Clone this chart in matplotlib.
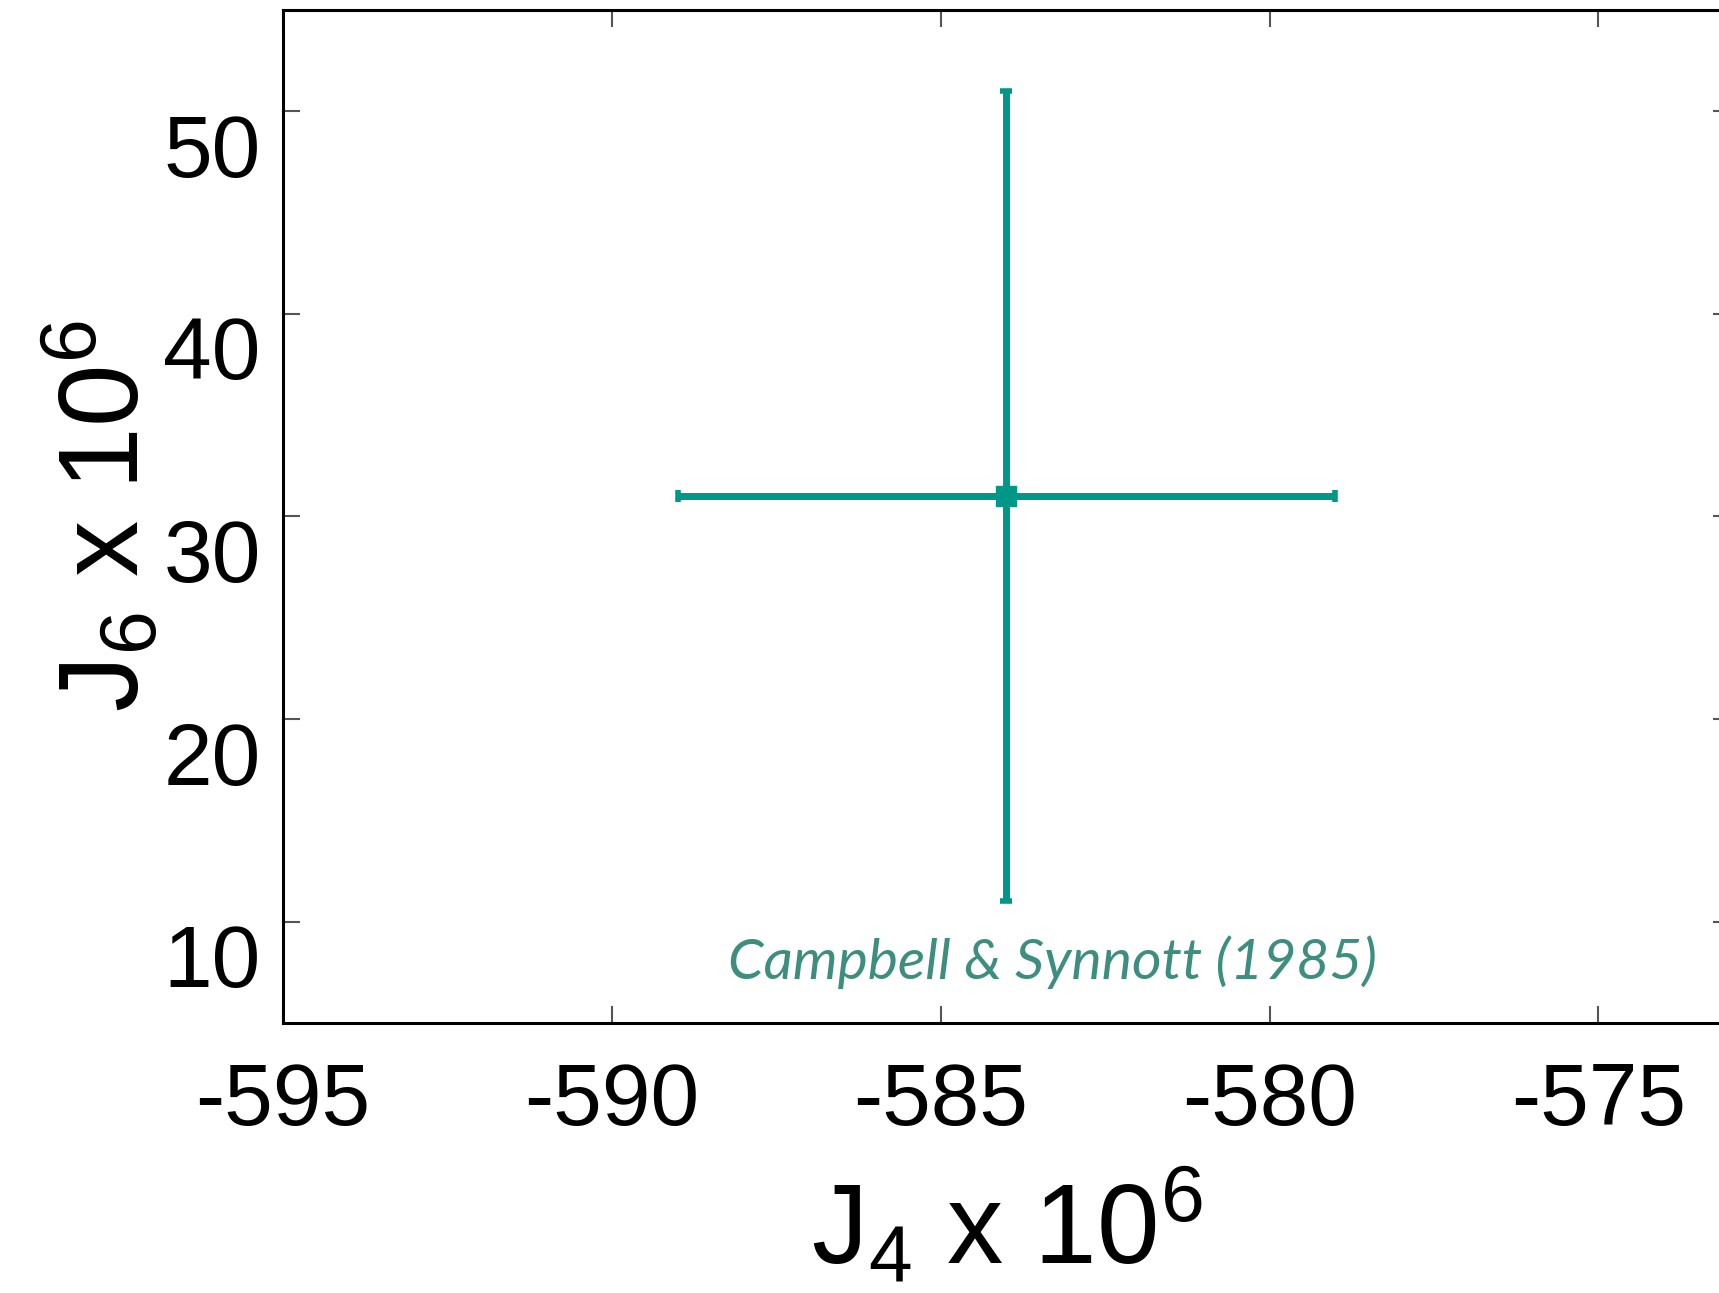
import matplotlib
matplotlib.use("Agg")
import matplotlib.pyplot as plt
from matplotlib.transforms import ScaledTranslation

# Datos
j4 = [-584.0]
j4_err = [5.0]
j6 = [31.0]
j6_err = [20.0]
label = "Campbell & Synnott (1985)"
label_pos = (-583.3, 7.15)

xticks = [-595, -590, -585, -580, -575]
yticks = [10, 20, 30, 40, 50]

plt.rcParams['font.family'] = ['Liberation Sans', 'DejaVu Sans']
plt.rcParams['mathtext.fontset'] = 'custom'
plt.rcParams['mathtext.rm'] = 'Liberation Sans'
plt.rcParams['mathtext.it'] = 'Liberation Sans'
plt.rcParams['axes.unicode_minus'] = False

fig = plt.figure(figsize=(17.19, 12.93), dpi=100)
ax = fig.add_axes([0.1646, 0.2088, 0.8418, 0.7835])

ax.errorbar(j4, j6, xerr=j4_err, yerr=j6_err, fmt='s', color='#009688',
            markersize=14, elinewidth=5, capsize=4.5, capthick=4)

ax.text(label_pos[0], label_pos[1], label, color='#3d8e7e', fontsize=41,
        style='italic', family=['Lato', 'DejaVu Sans'], ha='center', va='baseline')

ax.set_xlim(-595, -573)
ax.set_ylim(5, 55)
ax.set_xticks(xticks)
ax.set_yticks(yticks)
ax.tick_params(direction='in', top=True, right=True, length=12, width=1.5,
               color='#555555', labelsize=63)
ax.tick_params(axis='x', pad=28)
ax.tick_params(axis='y', pad=16)
for s in ax.spines.values():
    s.set_linewidth(2.2)

# etiquetas del eje y un poco por debajo de la marca
off = ScaledTranslation(0, -0.34, fig.dpi_scale_trans)
for lbl in ax.get_yticklabels():
    lbl.set_transform(lbl.get_transform() + off)

ax.set_xlabel(r"J$_{\mathregular{4}}$ x 10$^{\mathregular{6}}$", fontsize=81, labelpad=18)
ax.set_ylabel(r"J$_{\mathregular{6}}$ x 10$^{\mathregular{6}}$", fontsize=81, labelpad=0)

fig.savefig("out.png", dpi=100)
